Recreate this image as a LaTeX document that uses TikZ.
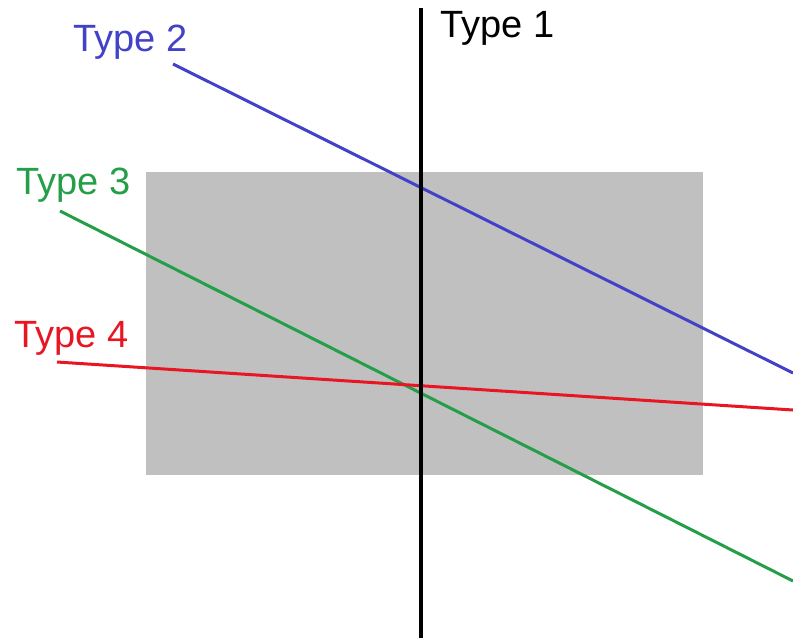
\documentclass[tikz,border=0pt]{standalone}
\usepackage{fontspec}
\setmainfont{Liberation Sans}
\definecolor{ltblue}{RGB}{66,66,200}
\definecolor{ltgreen}{RGB}{36,158,72}
\definecolor{ltred}{RGB}{232,22,34}
\definecolor{boxgray}{RGB}{192,192,192}
\begin{document}
\begin{tikzpicture}[x=1pt,y=-1pt,
  lbl/.style={inner sep=0pt,anchor=base west,font=\fontsize{38}{40}\selectfont},
  ln/.style={line width=3pt}]
\useasboundingbox (0,0) rectangle (793,641);
\fill[boxgray] (146,172) rectangle (703,475);
\coordinate (b1) at (173,64);
\coordinate (b2) at (793,373);
\coordinate (g1) at (60,211);
\coordinate (g2) at (793,581);
\coordinate (r1) at (57,362);
\coordinate (r2) at (793,410);
\coordinate (k1) at (421,8);
\coordinate (k2) at (421,638);
\draw[ln,ltblue] (b1) -- (b2);
\draw[ln,ltgreen] (g1) -- (g2);
\draw[ln,ltred] (r1) -- (r2);
\draw[line width=3.5pt,black] (k1) -- (k2);
\node[lbl,black] (t1) at (440,37) {Type 1};
\node[lbl,ltblue] (t2) at (73,51) {Type 2};
\node[lbl,ltgreen] (t3) at (16,194) {Type 3};
\node[lbl,ltred] (t4) at (14,347) {Type 4};
\end{tikzpicture}
\end{document}
